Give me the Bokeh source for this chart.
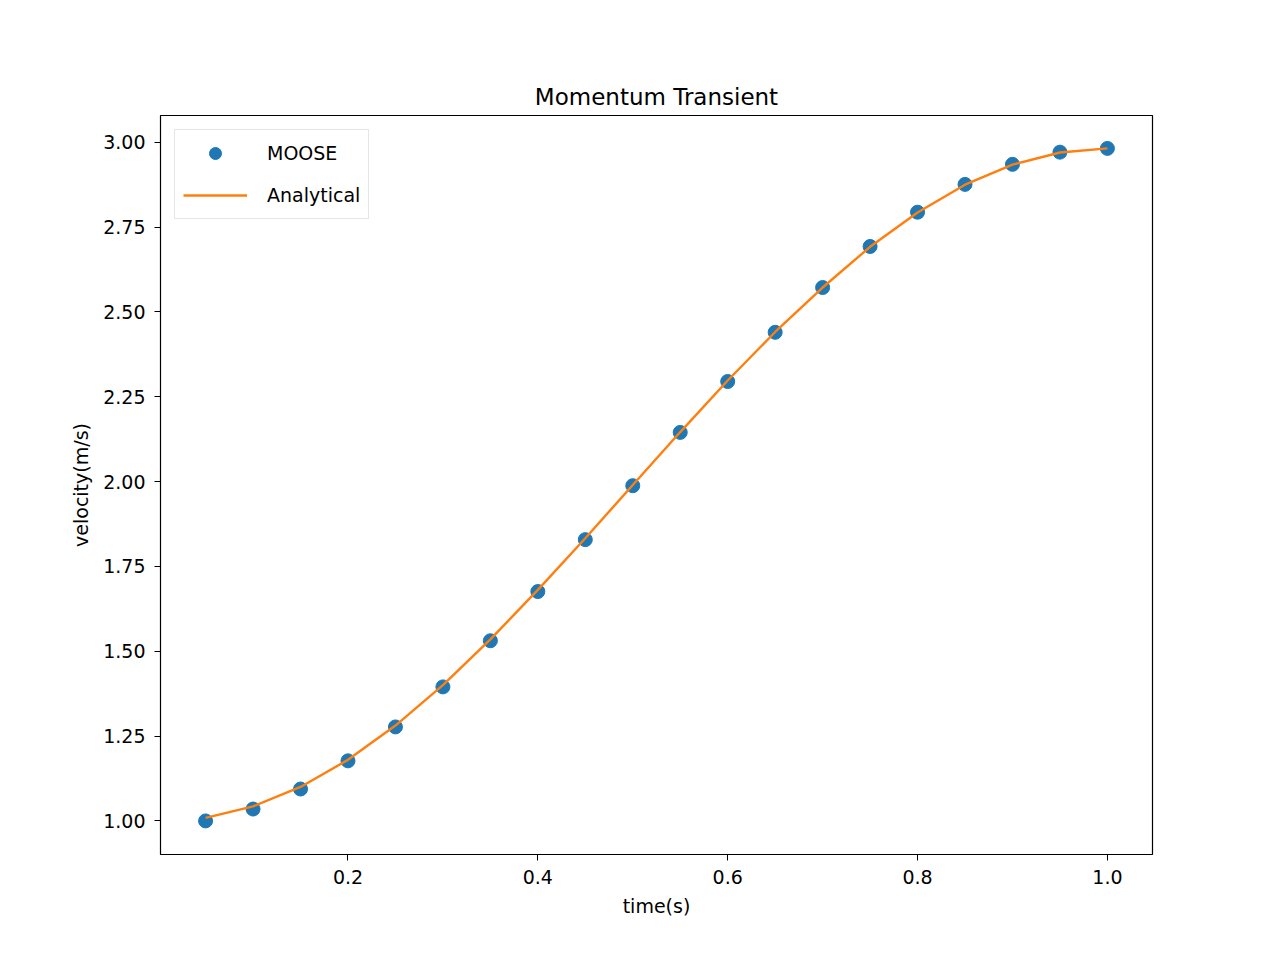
from bokeh.plotting import figure
from bokeh.models import Range1d, FixedTicker, NumeralTickFormatter, Legend, LegendItem
from bokeh.embed import file_html
from bokeh.resources import INLINE

# Sample data
time = [0.05, 0.10, 0.15, 0.20, 0.25, 0.30, 0.35, 0.40, 0.45, 0.50,
        0.55, 0.60, 0.65, 0.70, 0.75, 0.80, 0.85, 0.90, 0.95, 1.00]
moose = [1.000, 1.035, 1.094, 1.177, 1.277, 1.395, 1.531, 1.676, 1.829, 1.988,
         2.145, 2.295, 2.440, 2.572, 2.693, 2.794, 2.876, 2.935, 2.971, 2.982]
analytical = [1.009, 1.043, 1.100, 1.180, 1.281, 1.400, 1.535, 1.681, 1.833, 1.990,
              2.146, 2.298, 2.441, 2.572, 2.692, 2.793, 2.875, 2.934, 2.970, 2.982]

FONT = "DejaVu Sans"

p = figure(width=1264, height=944, output_backend="svg", toolbar_location=None,
           x_range=Range1d(0.0025, 1.0475), y_range=Range1d(0.901, 3.079),
           title="Momentum Transient", x_axis_label="time(s)",
           y_axis_label="velocity(m/s)",
           min_border_left=160, min_border_right=112,
           min_border_top=115, min_border_bottom=90)
p.xgrid.visible = False
p.ygrid.visible = False
p.outline_line_color = "black"
p.outline_line_width = 1.2

p.title.align = "center"
p.title.text_font = FONT
p.title.text_font_size = "23px"
p.title.text_font_style = "normal"
p.title.text_color = "black"
p.title.standoff = 12

for ax in (p.xaxis, p.yaxis):
    ax.axis_label_text_font = FONT
    ax.axis_label_text_font_size = "19px"
    ax.axis_label_text_font_style = "normal"
    ax.axis_label_text_color = "black"
    ax.major_label_text_font = FONT
    ax.major_label_text_font_size = "19px"
    ax.major_label_text_color = "black"
    ax.major_label_standoff = 9
    ax.minor_tick_line_color = None
    ax.major_tick_out = 6
    ax.major_tick_in = 0
    ax.major_tick_line_color = "black"
    ax.axis_line_color = None
    ax.axis_label_standoff = 8

p.xaxis.ticker = FixedTicker(ticks=[0.2, 0.4, 0.6, 0.8, 1.0])
p.xaxis.formatter = NumeralTickFormatter(format="0.0")
p.yaxis.ticker = FixedTicker(ticks=[1.0, 1.25, 1.5, 1.75, 2.0, 2.25, 2.5, 2.75, 3.0])
p.yaxis.formatter = NumeralTickFormatter(format="0.00")

pts = p.scatter(time, moose, size=14, color="#1f77b4")
ln = p.line(time, analytical, line_width=2.4, line_color="#ff7f0e")

legend = Legend(items=[LegendItem(label="MOOSE", renderers=[pts]),
                       LegendItem(label="Analytical", renderers=[ln])],
                location="top_left", label_text_font=FONT,
                label_text_font_size="19px", label_text_color="black",
                border_line_color="#cccccc", border_line_width=1.5,
                glyph_width=64, glyph_height=30, spacing=12, label_standoff=20,
                padding=8, margin=14)
p.add_layout(legend)

open("out.html", "w").write(file_html(p, INLINE))
